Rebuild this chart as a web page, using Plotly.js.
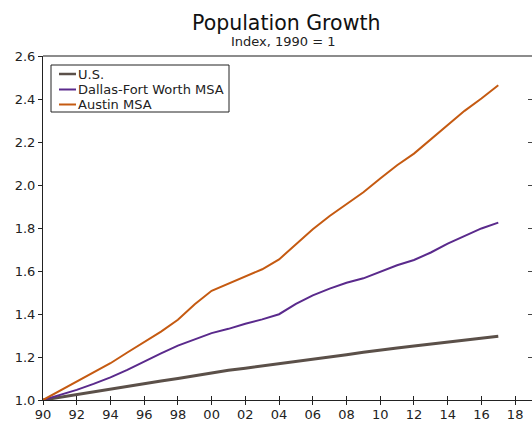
<!DOCTYPE html>
<html>
<head>
<meta charset="utf-8">
<script src="https://cdn.plot.ly/plotly-3.0.1.min.js"></script>
<style>
  html, body { margin: 0; padding: 0; background: #fff; overflow: hidden; }
  #chart { width: 532px; height: 422px; }
</style>
</head>
<body>
<div id="chart"></div>
<script>
// Population index by year (1990 = 1)
const years = [1990, 1991, 1992, 1993, 1994, 1995, 1996, 1997, 1998, 1999,
               2000, 2001, 2002, 2003, 2004, 2005, 2006, 2007, 2008, 2009,
               2010, 2011, 2012, 2013, 2014, 2015, 2016, 2017];

const usIndex = [1.000, 1.013, 1.026, 1.039, 1.051, 1.063, 1.075, 1.088, 1.100, 1.113,
                 1.127, 1.138, 1.148, 1.158, 1.168, 1.178, 1.189, 1.200, 1.211, 1.222,
                 1.233, 1.242, 1.251, 1.260, 1.269, 1.278, 1.287, 1.296];

const dfwIndex = [1.000, 1.024, 1.047, 1.075, 1.105, 1.140, 1.179, 1.217, 1.253, 1.283,
                  1.311, 1.331, 1.355, 1.375, 1.399, 1.447, 1.487, 1.518, 1.545, 1.566,
                  1.597, 1.627, 1.651, 1.686, 1.727, 1.764, 1.798, 1.825];

const austinIndex = [1.000, 1.043, 1.086, 1.128, 1.171, 1.221, 1.269, 1.318, 1.373, 1.445,
                     1.508, 1.541, 1.572, 1.608, 1.654, 1.724, 1.794, 1.856, 1.913, 1.966,
                     2.030, 2.092, 2.146, 2.213, 2.278, 2.345, 2.402, 2.464];

const seriesNames = ['U.S.', 'Dallas-Fort Worth MSA', 'Austin MSA'];

const xTickVals = [1990, 1992, 1994, 1996, 1998, 2000, 2002, 2004, 2006, 2008,
                   2010, 2012, 2014, 2016, 2018];
const xTickText = ['90', '92', '94', '96', '98', '00', '02', '04', '06', '08',
                   '10', '12', '14', '16', '18'];
const yTickVals = [1.0, 1.2, 1.4, 1.6, 1.8, 2.0, 2.2, 2.4, 2.6];
const yTickText = ['1.0', '1.2', '1.4', '1.6', '1.8', '2.0', '2.2', '2.4', '2.6'];

// ---- styling ----
const FONT = 'Verdana, "DejaVu Sans", sans-serif';
const lineStyles = [
  { color: '#5b5049', width: 3 },
  { color: '#5a2a8c', width: 2 },
  { color: '#c55a11', width: 2 }
];

const W = 532, H = 422;
const M = { l: 43, r: 0, t: 56, b: 22 };
const plotW = W - M.l - M.r;
const plotH = H - M.t - M.b;
// pixel -> paper helpers for the hand-placed legend and titles
const px = v => (v - M.l) / plotW;
const py = v => 1 - (v - M.t) / plotH;

const seriesValues = [usIndex, dfwIndex, austinIndex];

const traces = seriesValues.map((vals, i) => ({
  x: years, y: vals, name: seriesNames[i], type: 'scatter', mode: 'lines',
  line: lineStyles[i], showlegend: false
}));
// carrier for the inward tick marks on the overlay axes
traces.push({ x: years, y: usIndex, xaxis: 'x2', yaxis: 'y2', type: 'scatter',
              mode: 'none', showlegend: false, hoverinfo: 'skip' });

// legend box, sample lines and labels
const legendBox = { x0: 51, x1: 229, y0: 65, y1: 112 };
const legendRows = [74, 89.5, 104.5];
const shapes = [
  { type: 'line', xref: 'paper', yref: 'paper', x0: 0, x1: 1, y0: 1, y1: 1,
    line: { color: '#666', width: 1.5 } },
  { type: 'rect', xref: 'paper', yref: 'paper',
    x0: px(legendBox.x0), x1: px(legendBox.x1), y0: py(legendBox.y1), y1: py(legendBox.y0),
    line: { color: '#222', width: 1 }, fillcolor: '#ffffff', layer: 'above' }
];
const annotations = [
  { text: 'Population Growth', xref: 'paper', yref: 'paper', x: px(286), y: 1,
    xanchor: 'center', yanchor: 'bottom', yshift: 19, showarrow: false,
    font: { family: FONT, size: 20.5, color: '#111' } },
  { text: 'Index, 1990 = 1', xref: 'paper', yref: 'paper', x: px(283), y: 1,
    xanchor: 'center', yanchor: 'bottom', yshift: 5, showarrow: false,
    font: { family: FONT, size: 13, color: '#222' } }
];
seriesNames.forEach((name, i) => {
  shapes.push({ type: 'line', xref: 'paper', yref: 'paper', layer: 'above',
    x0: px(59), x1: px(76), y0: py(legendRows[i]), y1: py(legendRows[i]),
    line: { color: lineStyles[i].color, width: Math.min(lineStyles[i].width, 2.5) } });
  annotations.push({ text: name, xref: 'paper', yref: 'paper',
    x: px(76), y: py(legendRows[i]), xanchor: 'left', yanchor: 'middle',
    showarrow: false, font: { family: FONT, size: 13, color: '#222' } });
});

const layout = {
  width: W,
  height: H,
  margin: M,
  paper_bgcolor: '#ffffff',
  plot_bgcolor: '#ffffff',
  font: { family: FONT, size: 13, color: '#222' },
  showlegend: false,
  xaxis: {
    range: [1990, 2019],
    tickvals: xTickVals, ticktext: xTickText,
    ticks: 'outside', ticklen: 4, tickwidth: 1, tickcolor: '#222',
    ticklabelstandoff: -2,
    showline: true, linecolor: '#222', linewidth: 1,
    showgrid: false, zeroline: false,
    tickfont: { family: FONT, size: 13, color: '#222' }
  },
  yaxis: {
    range: [1.0, 2.6],
    tickvals: yTickVals, ticktext: yTickText,
    ticks: 'outside', ticklen: 4, tickwidth: 1, tickcolor: '#222',
    showline: true, linecolor: '#222', linewidth: 1,
    showgrid: false, zeroline: false,
    tickfont: { family: FONT, size: 13, color: '#222' }
  },
  xaxis2: {
    overlaying: 'x', matches: 'x', anchor: 'y2', side: 'bottom',
    tickvals: xTickVals, showticklabels: false,
    ticks: 'inside', ticklen: 4, tickwidth: 1, tickcolor: '#222',
    showline: false, showgrid: false, zeroline: false
  },
  yaxis2: {
    overlaying: 'y', matches: 'y', anchor: 'x2', side: 'right',
    tickvals: yTickVals, showticklabels: false,
    ticks: 'inside', ticklen: 4, tickwidth: 1, tickcolor: '#444',
    showline: false, showgrid: false, zeroline: false
  },
  shapes: shapes,
  annotations: annotations
};

Plotly.newPlot('chart', traces, layout, { displayModeBar: false, staticPlot: true });
</script>
</body>
</html>
